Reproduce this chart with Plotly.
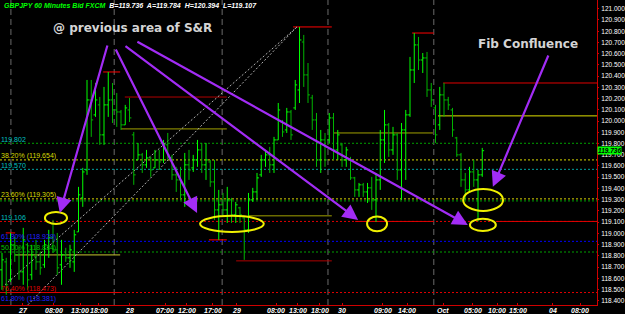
import plotly.graph_objects as go

# ---------------- data ----------------
opens = [118.675,118.746,118.586,118.898,118.809,118.657,118.898,118.631,118.791,118.746,
         118.720,118.871,118.960,118.853,118.720,118.809,118.782,118.746,119.013,119.316,
         119.565,120.188,120.055,120.144,119.877,120.144,120.188,120.099,120.081,119.966,
         120.099,119.877,119.654,119.699,119.610,119.672,119.583,119.654,119.654,119.788,
         119.672,119.521,119.476,119.343,119.610,119.583,119.654,119.743,119.610,119.636,
         119.458,119.209,119.254,119.209,119.298,119.165,119.227,119.138,119.031,119.298,
         119.369,119.521,119.654,119.699,119.610,119.832,119.992,119.921,120.081,120.117,
         120.277,120.704,120.411,120.206,120.010,119.654,119.832,119.832,120.028,119.743,
         119.788,119.654,119.654,119.494,119.387,119.432,119.369,119.405,119.298,119.476,
         119.832,119.966,119.743,119.877,119.565,119.921,120.055,120.455,120.678,120.544,
         120.562,120.277,120.117,119.966,120.233,120.188,120.099,119.850,119.699,119.476,
         119.387,119.547,119.476,119.521]
highs = [118.826,118.782,119.004,118.969,118.880,119.049,118.915,118.898,118.942,118.835,
         118.942,119.031,119.120,119.004,118.942,118.871,118.898,119.031,119.414,119.583,
         120.366,120.366,120.339,120.215,120.304,120.437,120.339,120.250,120.099,120.144,
         120.206,119.903,119.805,119.716,119.743,119.681,119.743,119.743,119.832,119.894,
         119.699,119.592,119.592,119.716,119.743,119.699,119.832,119.805,119.805,119.654,
         119.654,119.387,119.360,119.414,119.316,119.280,119.236,119.147,119.360,119.405,
         119.538,119.699,119.743,119.770,119.859,120.161,120.010,120.117,120.099,120.366,
         120.838,120.767,120.517,120.233,120.072,119.921,119.894,120.072,120.072,119.921,
         119.805,119.770,119.681,119.503,119.449,119.449,119.449,119.503,119.538,119.921,
         120.099,119.983,119.948,119.894,119.983,120.099,120.571,120.784,120.749,120.606,
         120.615,120.339,120.144,120.304,120.339,120.215,120.117,119.859,119.716,119.538,
         119.592,119.654,119.565,119.761]
lows = [118.497,118.453,118.568,118.746,118.586,118.542,118.497,118.586,118.675,118.631,
        118.693,118.782,118.826,118.631,118.542,118.746,118.693,118.657,119.013,119.236,
        119.521,119.859,120.037,119.788,119.788,120.037,119.983,119.948,119.921,119.966,
        119.992,119.432,119.654,119.538,119.583,119.503,119.583,119.565,119.627,119.654,
        119.476,119.369,119.298,119.236,119.476,119.547,119.592,119.538,119.476,119.414,
        119.120,118.942,119.147,119.093,119.093,119.093,119.093,118.764,119.004,119.280,
        119.298,119.503,119.592,119.538,119.538,119.832,119.859,119.894,119.832,120.099,
        120.161,120.304,120.161,119.921,119.592,119.538,119.592,119.805,119.654,119.654,
        119.592,119.592,119.476,119.325,119.325,119.325,119.271,119.209,119.102,119.387,
        119.627,119.681,119.699,119.476,119.298,119.476,120.037,120.339,120.455,120.428,
        120.215,120.126,119.805,119.921,120.037,120.099,119.859,119.681,119.414,119.298,
        119.369,119.414,119.107,119.503]
closes = [118.764,118.542,118.898,118.809,118.657,118.942,118.586,118.809,118.746,118.693,
          118.898,118.960,118.853,118.693,118.809,118.782,118.853,118.987,119.343,119.547,
          120.188,120.010,120.188,119.877,120.144,120.188,120.099,120.081,119.966,120.117,
          120.028,119.521,119.699,119.610,119.672,119.565,119.654,119.636,119.788,119.699,
          119.521,119.476,119.343,119.610,119.565,119.654,119.743,119.610,119.654,119.458,
          119.209,119.254,119.209,119.298,119.165,119.254,119.165,119.031,119.298,119.369,
          119.494,119.654,119.699,119.610,119.832,120.099,119.903,120.081,119.877,120.322,
          120.722,120.411,120.233,120.010,119.654,119.832,119.654,120.028,119.743,119.877,
          119.654,119.743,119.494,119.387,119.432,119.369,119.405,119.298,119.476,119.832,
          119.966,119.743,119.877,119.565,119.921,120.055,120.455,120.678,120.544,120.562,
          120.277,120.188,119.877,120.233,120.188,120.144,119.921,119.699,119.476,119.387,
          119.547,119.476,119.521,119.736]
bar_index = list(range(len(closes)))

# x tick labels (bar-index positions of time labels)
tick_pos = [4.9, 12.2, 18.4, 22.8, 30.1, 38.4, 43.5, 49.6, 55.1, 64.5, 69.6, 74.8,
            80.0, 89.6, 95.3, 103.8, 110.8, 116.5, 121.4, 129.6, 136.0]
tick_text = ["27", "08:00", "13:00", "18:00", "28", "07:00", "12:00", "17:00", "29",
             "08:00", "13:00", "18:00", "30", "09:00", "14:00", "Oct", "05:00", "10:00",
             "15:00", "04", "08:00"]
day_breaks = [2.1, 26.4, 51.8, 76.7, 101.6]

# full-width dotted levels
dot_levels = [119.802, 119.654, 119.570, 119.307, 119.289, 119.106, 118.929, 118.834, 118.473]
dot_colors = ["#00a000", "#d8d800", "#00a0a0", "#d8d800", "#00a000", "#e00000", "#0000ff", "#00a000", "#e00000"]

# level labels on left
lab_levels = [119.802, 119.654, 119.570, 119.307, 119.106, 118.929, 118.834, 118.473, 118.381]
lab_texts = ["119.802", "38.20% (119.654)", "119.570", "23.60% (119.305)", "119.106",
             "61.80% (118.929)", "50.00% (118.834)", "76.40% (118.473)", "61.80% (118.381)"]
lab_colors = ["#00c0c0", "#d8d800", "#00c0c0", "#d8d800", "#00c0c0", "#2020ff", "#00c000", "#e00000", "#2020ff"]

# solid horizontal segments (level, start, end in bar index)
seg_level = [120.437, 120.214, 119.930, 120.838, 120.784, 120.339, 120.046, 119.894, 118.808,
             119.004, 118.942, 118.755, 119.156, 119.106, 119.106, 118.473]
seg_x0 = [23.8, 28.9, 28.0, 68.5, 96.5, 103.8, 102.6, 77.9, 3.1, 0.9, 48.7, 55.1, 57.9, 83.1, 116.5, -0.5]
seg_x1 = [27.8, 52.9, 52.9, 77.6, 101.6, 140.0, 140.0, 101.4, 27.8, 3.1, 52.9, 77.6, 77.6, 101.4, 140.0, 27.8]
seg_color = ["#ff0000", "#b00000", "#a0a000", "#ff0000", "#ff0000", "#e00000", "#e0e000", "#a0a000",
             "#c8c830", "#ff0000", "#ff0000", "#b00000", "#a0a000", "#e00000", "#e00000", "#e00000"]

# diagonal fib base lines
diag_x0 = [0.7, 6.1]
diag_y0 = [118.542, 118.364]
diag_x1 = [69.4, 69.4]
diag_y1 = [120.838, 120.838]

# purple arrows (tail -> head)
arr_tx = [24.9, 26.6, 28.7, 31.5, 128.7]
arr_ty = [120.686, 120.651, 120.677, 120.713, 120.597]
arr_hx = [13.6, 45.9, 83.8, 109.6, 115.5]
arr_hy = [119.182, 119.182, 119.120, 119.075, 119.414]

# yellow ellipses
ell_x0 = [10.1, 46.6, 85.9, 108.5, 110.1]
ell_x1 = [15.3, 61.6, 90.6, 117.9, 116.2]
ell_y0 = [119.084, 119.013, 119.018, 119.200, 119.022]
ell_y1 = [119.191, 119.156, 119.151, 119.396, 119.129]

# ---------------- figure ----------------
fig = go.Figure()
fig.add_trace(go.Ohlc(
    x=bar_index, open=opens, high=highs, low=lows, close=closes,
    increasing=dict(line=dict(color="#00ff00", width=1)),
    decreasing=dict(line=dict(color="#00b400", width=1)),
    tickwidth=0.45, showlegend=False, hoverinfo="skip"))

shapes = []
for xb in day_breaks:
    shapes.append(dict(type="line", xref="x", yref="paper", x0=xb, x1=xb, y0=0, y1=1,
                       line=dict(color="#6a6a6a", width=1, dash="6px,4px"), layer="below"))
for lv, c in zip(dot_levels, dot_colors):
    shapes.append(dict(type="line", xref="paper", yref="y", x0=0, x1=1, y0=lv, y1=lv,
                       line=dict(color=c, width=1, dash="2px,2px"), layer="below"))
for lv, a, b, c in zip(seg_level, seg_x0, seg_x1, seg_color):
    shapes.append(dict(type="line", xref="x", yref="y", x0=a, x1=b, y0=lv, y1=lv,
                       line=dict(color=c, width=1), layer="below"))
for a, b, c, d in zip(diag_x0, diag_y0, diag_x1, diag_y1):
    shapes.append(dict(type="line", xref="x", yref="y", x0=a, y0=b, x1=c, y1=d,
                       line=dict(color="#b0b0b0", width=1, dash="2px,2px"), layer="below"))
for a, b, c, d in zip(ell_x0, ell_x1, ell_y0, ell_y1):
    shapes.append(dict(type="circle", xref="x", yref="y", x0=a, x1=b, y0=c, y1=d,
                       line=dict(color="#f0f000", width=2)))

ann = []
for lv, t, c in zip(lab_levels, lab_texts, lab_colors):
    ann.append(dict(xref="paper", yref="y", x=0, y=lv, xanchor="left", yanchor="bottom",
                    text=t, showarrow=False, font=dict(family="Liberation Sans", size=7, color=c),
                    borderpad=0, yshift=-1))
for tp, tt in zip(tick_pos, tick_text):
    ann.append(dict(xref="x", yref="paper", x=tp, y=0, xanchor="center", yanchor="top",
                    text="<b><i>%s</i></b>" % tt, showarrow=False, borderpad=0, yshift=-1,
                    font=dict(family="Liberation Sans", size=7, color="#ffffff")))
for tx, ty, hx, hy in zip(arr_tx, arr_ty, arr_hx, arr_hy):
    ann.append(dict(xref="x", yref="y", axref="x", ayref="y", x=hx, y=hy, ax=tx, ay=ty,
                    text="", showarrow=True, arrowhead=2, arrowsize=1.4, arrowwidth=2.2,
                    arrowcolor="#a22cf5"))
ann.append(dict(xref="x", yref="y", x=30.6, y=120.829, text="<b>@ previous area of S&amp;R</b>",
                showarrow=False, font=dict(family="DejaVu Sans", size=12, color="#d4d4d4")))
ann.append(dict(xref="x", yref="y", x=123.8, y=120.686, text="<b>Fib Confluence</b>",
                showarrow=False, font=dict(family="DejaVu Sans", size=12, color="#d4d4d4")))
ann.append(dict(xref="paper", yref="paper", x=0.003, y=1.0, xanchor="left", yanchor="top",
                text="<b><i><span style='color:#00ff00'>GBPJPY 60 Minutes Bid FXCM</span>  "
                     "B=119.736  A=119.784  H=120.394  L=119.107</i></b>",
                showarrow=False, font=dict(family="Liberation Sans", size=7, color="#ffffff")))
ann.append(dict(xref="paper", yref="y", x=1.0, y=119.736, xanchor="left", yanchor="middle",
                text="<b><i>119.736</i></b>", showarrow=False, bgcolor="#00ff00", borderpad=0,
                font=dict(family="Liberation Sans", size=6.5, color="#000000")))

fig.update_layout(
    width=625, height=314, margin=dict(l=0, r=28, t=0, b=9),
    paper_bgcolor="#000000", plot_bgcolor="#000000",
    shapes=shapes, annotations=ann, showlegend=False,
    xaxis=dict(range=[-0.47, 140.0], rangeslider=dict(visible=False), showgrid=False,
               zeroline=False, showline=True, linecolor="#d00000", linewidth=1,
               tickvals=tick_pos, showticklabels=False,
               ticks="inside", ticklen=2, tickcolor="#d00000", automargin=False),
    yaxis=dict(range=[118.362, 121.078], side="right", dtick=0.1, tick0=118.4,
               tickformat=".3f", showgrid=False, zeroline=False, showline=True,
               linecolor="#d00000", linewidth=1, ticks="outside", ticklen=1, tickcolor="#d00000",
               ticklabelstandoff=1,
               tickfont=dict(family="Liberation Sans", size=6.5, color="#ffffff"), automargin=False),
)
fig.write_html("out.html")
